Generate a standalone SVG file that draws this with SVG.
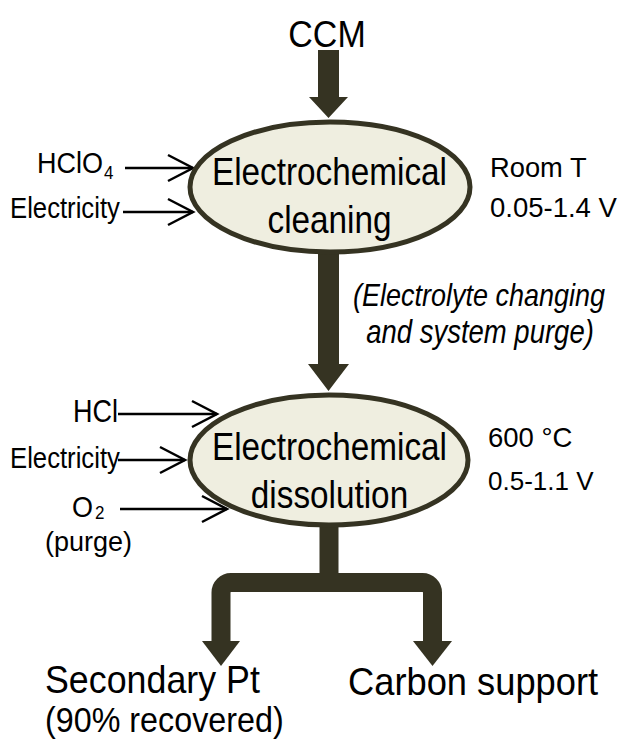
<svg xmlns="http://www.w3.org/2000/svg" width="619" height="740" viewBox="0 0 619 740">
<style>
text{font-family:"Liberation Sans",Arial,sans-serif;fill:#000}
.ell{fill:#efeee0;stroke:#353322;stroke-width:5}
.thick{fill:#353322;stroke:none}
.thin{stroke:#000;stroke-width:2.5;fill:none}
.it{font-style:italic}
</style>
<defs>
<marker id="chev" markerUnits="userSpaceOnUse" markerWidth="30" markerHeight="30" viewBox="0 0 30 30" refX="27" refY="15" orient="auto">
<path d="M2,2 L27,15 L2,28" fill="none" stroke="#000" stroke-width="2.5"/>
</marker>
</defs>
<rect width="619" height="740" fill="#fff"/>
<g id="connectors">
<polygon class="thick" points="318,50 339,50 339,97 348,97 328.5,118 309,97 318,97"/>
<polygon class="thick" points="318,250 339,250 339,364 349,364 328.5,391 308,364 318,364"/>
<path d="M329,520 V583" stroke="#353322" stroke-width="19" fill="none"/>
<path d="M221,645 V592.5 A10,10 0 0 1 231,582.5 H422.5 A10,10 0 0 1 432.5,592.5 V645" stroke="#353322" stroke-width="19" fill="none"/>
<polygon class="thick" points="202,641 240,641 221,666"/>
<polygon class="thick" points="413,641 452,641 432.5,666"/>
<line class="thin" x1="125" y1="168" x2="193" y2="168" marker-end="url(#chev)"/>
<line class="thin" x1="123" y1="212" x2="193" y2="212" marker-end="url(#chev)"/>
<line class="thin" x1="118" y1="414" x2="217" y2="414" marker-end="url(#chev)"/>
<line class="thin" x1="118" y1="460" x2="185" y2="460" marker-end="url(#chev)"/>
<line class="thin" x1="120" y1="509" x2="227" y2="509" marker-end="url(#chev)"/>
</g>
<g id="node-ccm">
<text transform="translate(327,47) scale(1,1.11)" font-size="34" text-anchor="middle">CCM</text>
</g>
<g id="node-cleaning">
<ellipse class="ell" cx="330" cy="187" rx="140" ry="65"/>
<text transform="translate(329.5,185) scale(1,1.17)" font-size="33.3" text-anchor="middle">Electrochemical</text>
<text transform="translate(329.5,233) scale(1,1.17)" font-size="33.3" text-anchor="middle">cleaning</text>
</g>
<g id="node-dissolution">
<ellipse class="ell" cx="329" cy="460" rx="139" ry="65"/>
<text transform="translate(329.5,460) scale(1,1.17)" font-size="33.3" text-anchor="middle">Electrochemical</text>
<text transform="translate(329.5,508) scale(1,1.17)" font-size="33.3" text-anchor="middle">dissolution</text>
</g>
<g id="input-hclo4">
<text transform="translate(37,173) scale(1,1.1)" font-size="27">HClO<tspan font-size="17" dx="1" dy="5">4</tspan></text>
</g>
<g id="input-electricity-1">
<text transform="translate(10,218) scale(1,1.14)" font-size="25.7">Electricity</text>
</g>
<g id="cond-cleaning">
<text x="490" y="177" font-size="27.3">Room T</text>
<text x="490" y="217" font-size="27.5">0.05-1.4 V</text>
</g>
<g id="note-purge">
<text class="it" transform="translate(479,306) scale(1,1.18)" font-size="27" text-anchor="middle">(Electrolyte changing</text>
<text class="it" transform="translate(480,343) scale(1,1.18)" font-size="27.5" text-anchor="middle">and system purge)</text>
</g>
<g id="input-hcl">
<text transform="translate(73,422) scale(1,1.13)" font-size="27">HCl</text>
</g>
<g id="input-electricity-2">
<text transform="translate(10,468) scale(1,1.14)" font-size="25.7">Electricity</text>
</g>
<g id="input-o2">
<text transform="translate(72,517) scale(1,1.08)" font-size="27">O<tspan font-size="17" dx="2" dy="2">2</tspan></text>
<text x="45" y="551" font-size="27">(purge)</text>
</g>
<g id="cond-dissolution">
<text x="488" y="447" font-size="27.5">600 °C</text>
<text x="488" y="490" font-size="26">0.5-1.1 V</text>
</g>
<g id="node-pt">
<text transform="translate(45,693) scale(1,1.09)" font-size="35.8">Secondary Pt</text>
<text transform="translate(45,732) scale(1,1.08)" font-size="32.3">(90% recovered)</text>
</g>
<g id="node-carbon">
<text transform="translate(348,695) scale(1,1.07)" font-size="36.3">Carbon support</text>
</g>
</svg>
